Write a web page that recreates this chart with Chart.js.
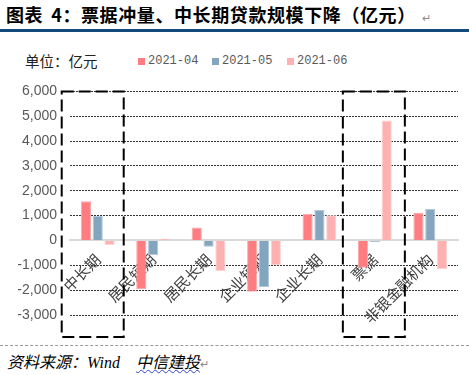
<!DOCTYPE html>
<html>
<head>
<meta charset="utf-8">
<script src="https://cdn.jsdelivr.net/npm/chart.js@4.4.0/dist/chart.umd.min.js"></script>
<style>
body{margin:0;width:469px;height:375px;background:#fff;position:relative;overflow:hidden;font-family:"Noto Sans CJK SC",sans-serif}
#title{position:absolute;left:6px;top:3px;font-size:18px;font-weight:bold;color:#000;line-height:22px;white-space:nowrap;letter-spacing:0.6px}
#title .sp{display:inline-block;width:8px}
#title small{font-size:11px;font-weight:normal;color:#888;margin-left:6px}
#rule{position:absolute;left:0;top:29px;width:469px;height:3px;background:#134a7c}
#unit{position:absolute;left:25px;top:52px;font-size:14.5px;color:#222;line-height:18px}
#legend{position:absolute;left:138px;top:53px;font:12px "Liberation Mono",monospace;color:#595959;line-height:16px;white-space:nowrap}
.item{position:absolute;top:0}
.item i{position:absolute;left:0;top:5px;width:7px;height:7px}
.item span{position:absolute;left:10px;top:0}
#wrap{position:absolute;left:0;top:70px;width:469px;height:275px}
#foot{position:absolute;left:0;top:345px;width:469px;border-top:1px dashed #999}
#src{position:absolute;left:7px;top:351px;font-size:16px;font-style:italic;color:#000;line-height:20px;white-space:nowrap}
#src .w{font-family:"Liberation Serif",serif;margin-right:16px}
#src .u{text-decoration:underline wavy #3344cc;text-decoration-thickness:1px}
#src small{font-size:11px;font-style:normal;color:#888}
</style>
</head>
<body>
<div id="title">图表<span class="sp"></span>4：票据冲量、中长期贷款规模下降（亿元）<small>↵</small></div>
<div id="rule"></div>
<div id="unit">单位：亿元</div>
<div id="legend"></div>
<div id="wrap"><canvas id="loanChart"></canvas></div>
<div id="foot"></div>
<div id="src">资料来源：<span class="w">Wind</span><span class="u">中信建投</span><small>↵</small></div>

<script>
// Loan structure chart

const categories = ["中长期", "居民短期", "居民长期", "企业短期", "企业长期", "票据", "非银金融机构"];

const seriesNames = ["2021-04", "2021-05", "2021-06"];

const apr = [1580, -1950, 520, -2060, 1080, -1100, 1120];
const may = [980, -600, -250, -1880, 1230, -70, 1280];
const jun = [-180, 70, -1230, -1000, 1010, 4830, -1160];

const fills = ["#ff7c80", "#84a5be", "#ffb0b0"];
const edges = ["#ffa8aa", "#b2c7d7", "#ffd2d2"];

// legend built from the series names
const legend = document.getElementById("legend");
const legendX = [0, 74, 149];
seriesNames.forEach(function (name, i) {
  const item = document.createElement("div");
  item.className = "item";
  item.style.left = legendX[i] + "px";
  item.innerHTML = '<i style="background:' + fills[i] + '"></i><span>' + name + '</span>';
  legend.appendChild(item);
});

// dashed boxes round 中长期 and 票据
const boxes = [
  { cat: 0, l: -36, r: 26 },
  { cat: 5, l: -32, r: 30 }
];

const boxPlugin = {
  id: "boxes",
  afterDraw(chart) {
    const ctx = chart.ctx;
    const x = chart.scales.x;
    const y = chart.scales.y;
    const top = y.getPixelForValue(6000);
    const bottom = y.getPixelForValue(-3000) + 22;
    ctx.save();
    ctx.setLineDash([12, 5]);
    ctx.lineWidth = 2;
    ctx.strokeStyle = "#000";
    boxes.forEach(function (b) {
      const c = x.getPixelForValue(b.cat);
      ctx.strokeRect(c + b.l, top, b.r - b.l, bottom - top);
    });
    ctx.restore();
  }
};

const series = [apr, may, jun];

new Chart(document.getElementById("loanChart"), {
  type: "bar",
  data: {
    labels: categories,
    datasets: series.map(function (d, i) {
      return {
        label: seriesNames[i],
        data: d,
        backgroundColor: fills[i],
        borderColor: edges[i],
        borderWidth: 1,
        categoryPercentage: 0.64,
        barPercentage: 0.86
      };
    })
  },
  options: {
    responsive: true,
    maintainAspectRatio: false,
    animation: false,
    devicePixelRatio: 1,
    layout: { padding: { left: 18, right: 11, top: 1, bottom: 30 } },
    plugins: {
      legend: { display: false },
      tooltip: { enabled: false }
    },
    scales: {
      x: {
        position: { y: 0 },
        grid: { display: false, drawTicks: false },
        border: { display: true, color: "#d9d9d9", width: 2 },
        ticks: {
          autoSkip: false,
          minRotation: 45,
          maxRotation: 45,
          padding: 10,
          color: "#404040",
          font: { family: "Noto Sans CJK SC", size: 15 }
        }
      },
      y: {
        min: -3000,
        max: 6000,
        afterFit: function (s) { s.width = 52; },
        grid: {
          drawTicks: false,
          lineWidth: 1,
          color: function (c) { return c.tick && c.tick.value === 0 ? "rgba(0,0,0,0)" : "#333"; }
        },
        border: { display: false, dash: [2, 1] },
        ticks: {
          stepSize: 1000,
          padding: 13,
          color: "#595959",
          font: { family: "Liberation Sans", size: 14 }
        }
      }
    }
  },
  plugins: [boxPlugin]
});
</script>
</body>
</html>
